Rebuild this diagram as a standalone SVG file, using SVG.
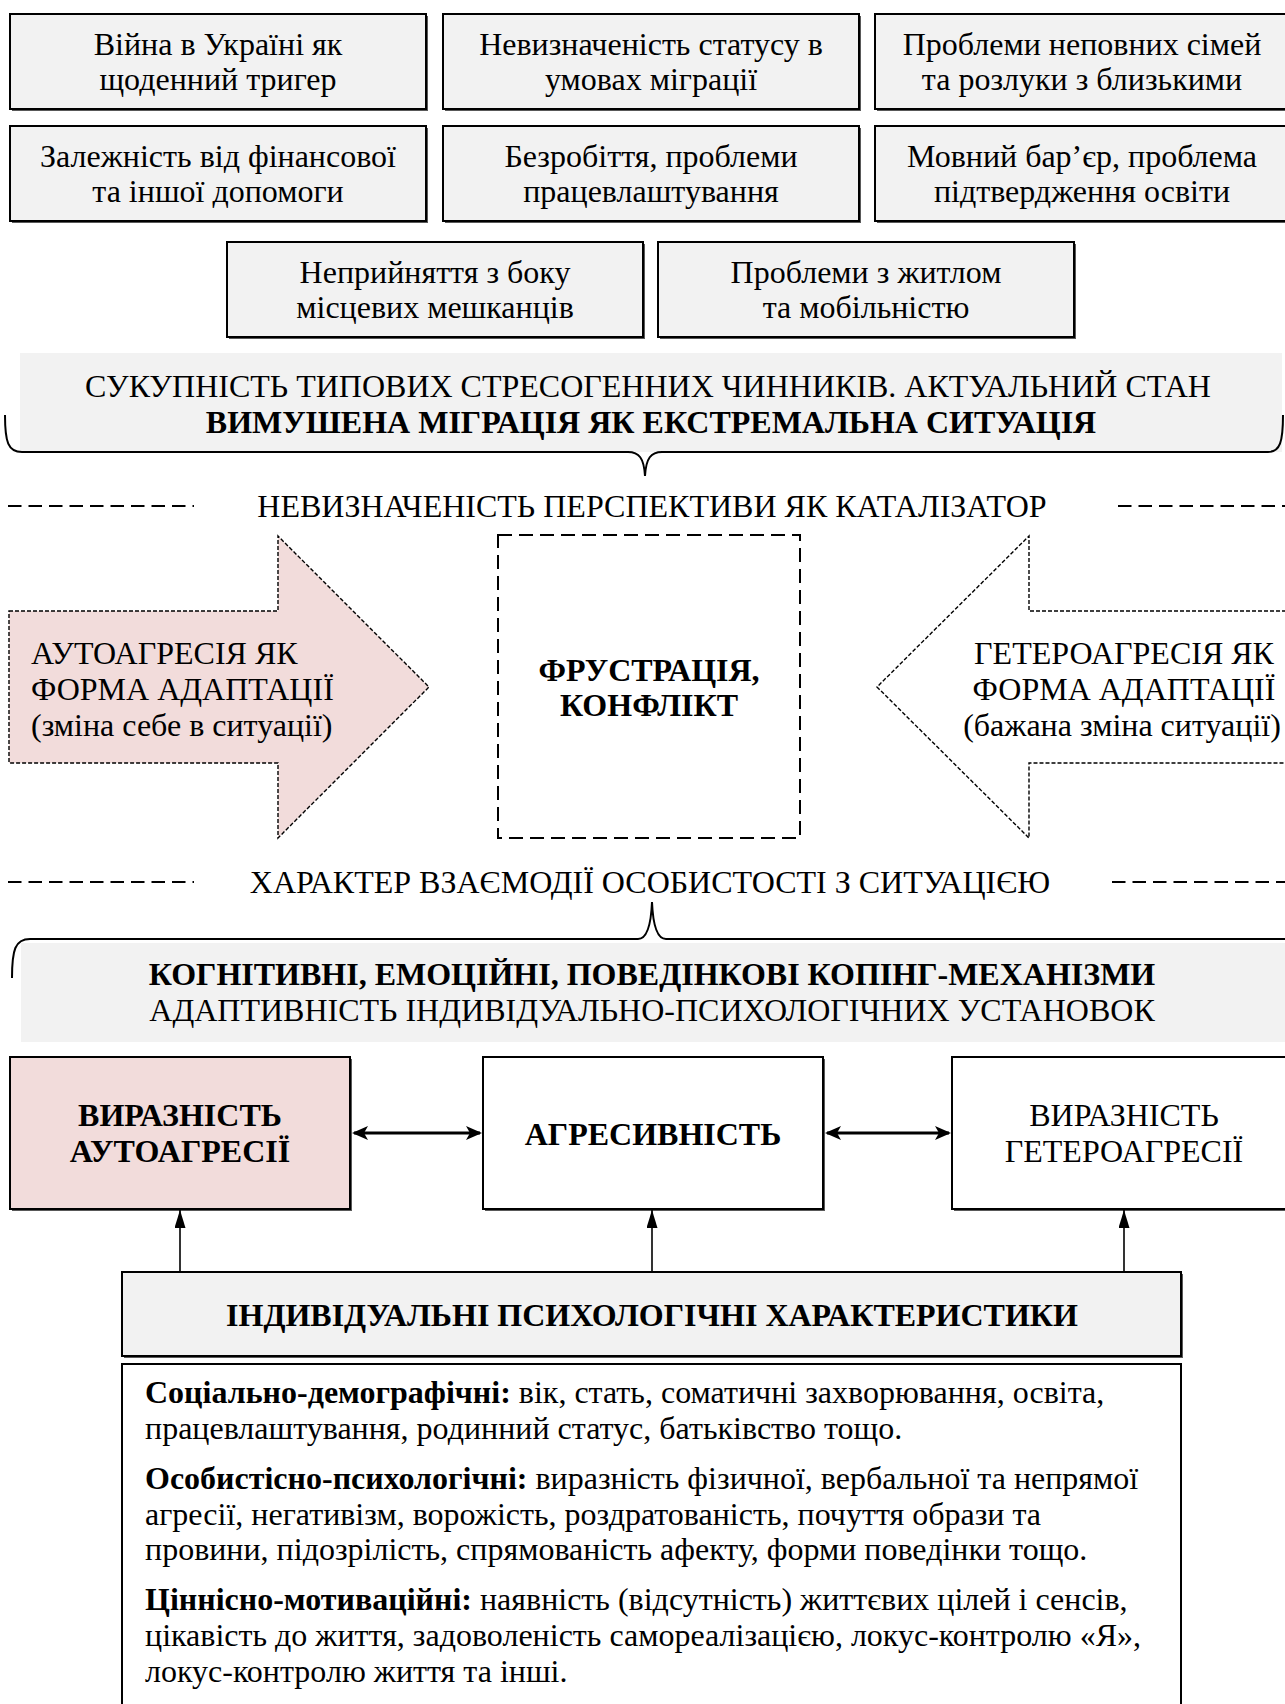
<svg xmlns="http://www.w3.org/2000/svg" width="1285" height="1704" viewBox="0 0 1285 1704">
<defs>
<style>
text{font-family:"Liberation Serif","Times New Roman",serif;font-size:32px;fill:#000}
.c{text-anchor:middle}
.b{font-weight:bold}
.box{fill:#f2f2f2;stroke:#000;stroke-width:2}
.wbox{fill:#fff;stroke:#000;stroke-width:2}
.pbox{fill:#f2dcdb;stroke:#000;stroke-width:2}
.sh{fill:#595959}
.band{fill:#f2f2f2}
.brace{fill:none;stroke:#000;stroke-width:2}
.dash{stroke:#000;stroke-width:2;stroke-dasharray:13.5 7}
.frame{fill:none;stroke:#000;stroke-width:2;stroke-dasharray:14 7}
.dot{stroke:#000;stroke-width:1.4;stroke-dasharray:4 2}
.dbl{stroke:#000;stroke-width:3;fill:none}
.up{stroke:#000;stroke-width:1.6;fill:none}
</style>
<marker id="ah" viewBox="0 0 16 14" refX="14" refY="7" markerWidth="16" markerHeight="14" markerUnits="userSpaceOnUse" orient="auto-start-reverse"><path d="M0,0 L16,7 L0,14 L4,7 z" fill="#000"/></marker>
<marker id="as" viewBox="0 0 18 11" refX="18" refY="5.5" markerWidth="18" markerHeight="11" markerUnits="userSpaceOnUse" orient="auto"><path d="M0,0 L18,5.5 L0,11 z" fill="#000"/></marker>
</defs>

<g id="f1"><rect class="sh" x="12" y="16" width="416" height="95"/><rect class="box" x="10" y="14" width="416" height="95"/><text class="c" x="218" y="55">Війна в Україні як</text><text class="c" x="218" y="90">щоденний тригер</text></g>
<g id="f2"><rect class="sh" x="445" y="16" width="416" height="95"/><rect class="box" x="443" y="14" width="416" height="95"/><text class="c" x="651" y="55">Невизначеність статусу в</text><text class="c" x="651" y="90">умовах міграції</text></g>
<g id="f3"><rect class="sh" x="877" y="16" width="416" height="95"/><rect class="box" x="875" y="14" width="416" height="95"/><text class="c" x="1082" y="55">Проблеми неповних сімей</text><text class="c" x="1082" y="90">та розлуки з близькими</text></g>

<g id="f4"><rect class="sh" x="12" y="128" width="416" height="95"/><rect class="box" x="10" y="126" width="416" height="95"/><text class="c" x="218" y="167">Залежність від фінансової</text><text class="c" x="218" y="202">та іншої допомоги</text></g>
<g id="f5"><rect class="sh" x="445" y="128" width="416" height="95"/><rect class="box" x="443" y="126" width="416" height="95"/><text class="c" x="651" y="167">Безробіття, проблеми</text><text class="c" x="651" y="202">працевлаштування</text></g>
<g id="f6"><rect class="sh" x="877" y="128" width="416" height="95"/><rect class="box" x="875" y="126" width="416" height="95"/><text class="c" x="1082" y="167">Мовний бар’єр, проблема</text><text class="c" x="1082" y="202">підтвердження освіти</text></g>

<g id="f7"><rect class="sh" x="229" y="244" width="416" height="95"/><rect class="box" x="227" y="242" width="416" height="95"/><text class="c" x="435" y="283">Неприйняття з боку</text><text class="c" x="435" y="318">місцевих мешканців</text></g>
<g id="f8"><rect class="sh" x="660" y="244" width="416" height="95"/><rect class="box" x="658" y="242" width="416" height="95"/><text class="c" x="866" y="283">Проблеми з житлом</text><text class="c" x="866" y="318">та мобільністю</text></g>

<g id="banner1"><rect class="band" x="20" y="353" width="1262" height="99"/><text class="c" x="648" y="397">СУКУПНІСТЬ ТИПОВИХ СТРЕСОГЕННИХ ЧИННИКІВ. АКТУАЛЬНИЙ СТАН</text><text class="c b" x="651" y="433">ВИМУШЕНА МІГРАЦІЯ ЯК ЕКСТРЕМАЛЬНА СИТУАЦІЯ</text><path class="brace" d="M5,415 C5,442 8,452 22,452 L628,452 C639,452 644,458 645,476 C646,458 651,452 662,452 L1268,452 C1280,452 1283,442 1283,415"/></g>

<g id="catalyst"><line class="dash" x1="8" y1="506" x2="194" y2="506"/><text class="c" x="652" y="517">НЕВИЗНАЧЕНІСТЬ ПЕРСПЕКТИВИ ЯК КАТАЛІЗАТОР</text><line class="dash" x1="1118" y1="506" x2="1285" y2="506"/></g>

<g id="auto"><polygon class="dot" fill="#f2dcdb" points="9,611 278,611 278,536 429,687 278,838 278,763 9,763"/><text x="31" y="664">АУТОАГРЕСІЯ ЯК</text><text x="31" y="700">ФОРМА АДАПТАЦІЇ</text><text x="31" y="736">(зміна себе в ситуації)</text></g>

<g id="frustr"><rect class="frame" x="498" y="535" width="302" height="303"/><text class="c b" x="649" y="681">ФРУСТРАЦІЯ,</text><text class="c b" x="649" y="716">КОНФЛІКТ</text></g>

<g id="hetero"><polygon class="dot" fill="#fff" points="1292,611 1029,611 1029,536 877,687 1029,838 1029,763 1292,763"/><text class="c" x="1124" y="664">ГЕТЕРОАГРЕСІЯ ЯК</text><text class="c" x="1124" y="700">ФОРМА АДАПТАЦІЇ</text><text class="c" x="1122" y="736">(бажана зміна ситуації)</text></g>

<g id="interaction"><line class="dash" x1="8" y1="882" x2="194" y2="882"/><text class="c" x="650" y="893">ХАРАКТЕР ВЗАЄМОДІЇ ОСОБИСТОСТІ З СИТУАЦІЄЮ</text><line class="dash" x1="1112" y1="882" x2="1285" y2="882"/></g>

<g id="banner2"><path class="brace" d="M12,978 C12,950 15,939 30,939 L638,939 C647,939 651,926 652,902 C653,926 657,939 666,939 L1290,939"/><rect class="band" x="21" y="943" width="1270" height="99"/><text class="c b" x="652" y="985">КОГНІТИВНІ, ЕМОЦІЙНІ, ПОВЕДІНКОВІ КОПІНГ-МЕХАНІЗМИ</text><text class="c" x="652" y="1021">АДАПТИВНІСТЬ ІНДИВІДУАЛЬНО-ПСИХОЛОГІЧНИХ УСТАНОВОК</text></g>

<g id="autoexp"><rect class="sh" x="12" y="1059" width="340" height="152"/><rect class="pbox" x="10" y="1057" width="340" height="152"/><text class="c b" x="180" y="1126">ВИРАЗНІСТЬ</text><text class="c b" x="180" y="1162">АУТОАГРЕСІЇ</text></g>
<g id="aggr"><rect class="sh" x="485" y="1059" width="340" height="152"/><rect class="wbox" x="483" y="1057" width="340" height="152"/><text class="c b" x="653" y="1145">АГРЕСИВНІСТЬ</text></g>
<g id="heteroexp"><rect class="sh" x="954" y="1059" width="340" height="152"/><rect class="wbox" x="952" y="1057" width="340" height="152"/><text class="c" x="1124" y="1126">ВИРАЗНІСТЬ</text><text class="c" x="1124" y="1162">ГЕТЕРОАГРЕСІЇ</text></g>

<g id="indiv"><rect class="sh" x="124" y="1274" width="1059" height="84"/><rect class="box" x="122" y="1272" width="1059" height="84"/><text class="c b" x="652" y="1326">ІНДИВІДУАЛЬНІ ПСИХОЛОГІЧНІ ХАРАКТЕРИСТИКИ</text></g>

<g id="details"><rect class="wbox" x="122" y="1364" width="1059" height="360"/>
<text x="145" y="1403"><tspan class="b">Соціально-демографічні:</tspan> вік, стать, соматичні захворювання, освіта,</text>
<text x="145" y="1439">працевлаштування, родинний статус, батьківство тощо.</text>
<text x="145" y="1489"><tspan class="b">Особистісно-психологічні:</tspan> виразність фізичної, вербальної та непрямої</text>
<text x="145" y="1525">агресії, негативізм, ворожість, роздратованість, почуття образи та</text>
<text x="145" y="1560">провини, підозрілість, спрямованість афекту, форми поведінки тощо.</text>
<text x="145" y="1610"><tspan class="b">Ціннісно-мотиваційні:</tspan> наявність (відсутність) життєвих цілей і сенсів,</text>
<text x="145" y="1646">цікавість до життя, задоволеність самореалізацією, локус-контролю «Я»,</text>
<text x="145" y="1682">локус-контролю життя та інші.</text>
</g>

<g id="connectors">
<line class="dbl" x1="354" y1="1133" x2="480" y2="1133" marker-start="url(#ah)" marker-end="url(#ah)"/>
<line class="dbl" x1="827" y1="1133" x2="949" y2="1133" marker-start="url(#ah)" marker-end="url(#ah)"/>
<line class="up" x1="180" y1="1272" x2="180" y2="1210" marker-end="url(#as)"/>
<line class="up" x1="652" y1="1272" x2="652" y2="1210" marker-end="url(#as)"/>
<line class="up" x1="1124" y1="1272" x2="1124" y2="1210" marker-end="url(#as)"/>
</g>
</svg>
